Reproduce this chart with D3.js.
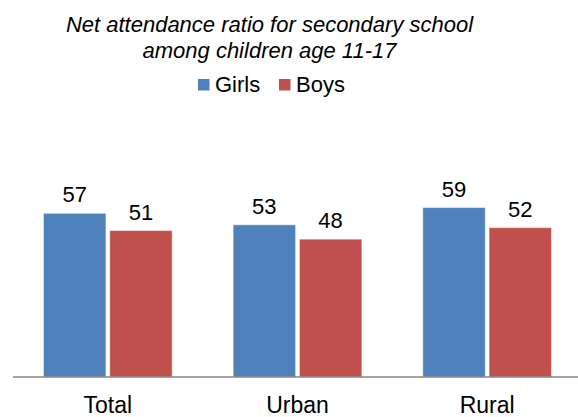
<!DOCTYPE html>
<html>
<head>
<meta charset="utf-8">
<script src="https://cdn.jsdelivr.net/npm/d3@7"></script>
<style>
  html, body { margin: 0; padding: 0; background: #fff; }
  svg { display: block; font-family: "Liberation Sans", Arial, sans-serif; }
</style>
</head>
<body>
<svg id="chart" width="578" height="417"></svg>
<script>
const categories = ["Total", "Urban", "Rural"];
const seriesNames = ["Girls", "Boys"];
const girls = [57, 53, 59];
const boys = [51, 48, 52];
const titleLines = ["Net attendance ratio for secondary school", "among children age 11-17"];
const colors = ["#4F81BD", "#C0504D"];

const svg = d3.select("#chart");
const W = 578, H = 417;
const plot = { left: 13, right: 582, top: 176, bottom: 377 };

const x = d3.scaleBand().domain(categories).range([plot.left, plot.right]).paddingInner(0).paddingOuter(0);
const xs = d3.scaleBand().domain(seriesNames).range([30.5, x.bandwidth() - 30.5]).paddingInner(0.058).paddingOuter(0);
const y = d3.scaleLinear().domain([0, 70]).range([plot.bottom, plot.top]);

// title
const title = svg.append("text")
  .attr("text-anchor", "middle")
  .attr("font-style", "italic")
  .attr("font-size", 22)
  .attr("fill", "#000");
titleLines.forEach((t, i) => {
  title.append("tspan").attr("x", 269.5).attr("y", 31.5 + i * 26.5).text(t);
});

// legend
const legendX = [198, 279];
seriesNames.forEach((s, i) => {
  const g = svg.append("g").attr("transform", `translate(${legendX[i]},0)`);
  g.append("rect").attr("x", 0).attr("y", 79).attr("width", 11.5).attr("height", 11.5).attr("fill", colors[i]);
  g.append("text").attr("x", 17).attr("y", 91.5).attr("font-size", 22).attr("fill", "#000").text(s);
});

// data
const rows = categories.map((c, i) => ({ cat: c, values: [
  { name: "Girls", v: girls[i] }, { name: "Boys", v: boys[i] }
]}));

const groups = svg.selectAll("g.grp").data(rows).enter().append("g")
  .attr("class", "grp")
  .attr("transform", d => `translate(${x(d.cat)},0)`);

groups.selectAll("rect").data(d => d.values).enter().append("rect")
  .attr("x", d => xs(d.name))
  .attr("y", d => y(d.v))
  .attr("width", xs.bandwidth())
  .attr("height", d => y(0) - y(d.v))
  .attr("fill", (d, i) => colors[i])
  .attr("stroke", "#ffffff")
  .attr("stroke-opacity", 0.45)
  .attr("stroke-width", 1);

groups.selectAll("text.val").data(d => d.values).enter().append("text")
  .attr("class", "val")
  .attr("x", d => xs(d.name) + xs.bandwidth() / 2)
  .attr("y", d => y(d.v) - 11)
  .attr("text-anchor", "middle")
  .attr("font-size", 22)
  .attr("fill", "#000")
  .text(d => d.v);

// x axis
const xAxis = d3.axisBottom(x).tickSize(0).tickPadding(0);
const ax = svg.append("g").attr("transform", `translate(0,${plot.bottom})`).call(xAxis);
ax.select(".domain").attr("stroke", "#868686").attr("stroke-width", 1.5)
  .attr("d", `M${plot.left},0H${W}`);
ax.selectAll(".tick text")
  .attr("font-size", 23)
  .attr("font-family", "'Liberation Sans', Arial, sans-serif")
  .attr("fill", "#000")
  .attr("dy", 0)
  .attr("y", 36);
</script>
</body>
</html>
